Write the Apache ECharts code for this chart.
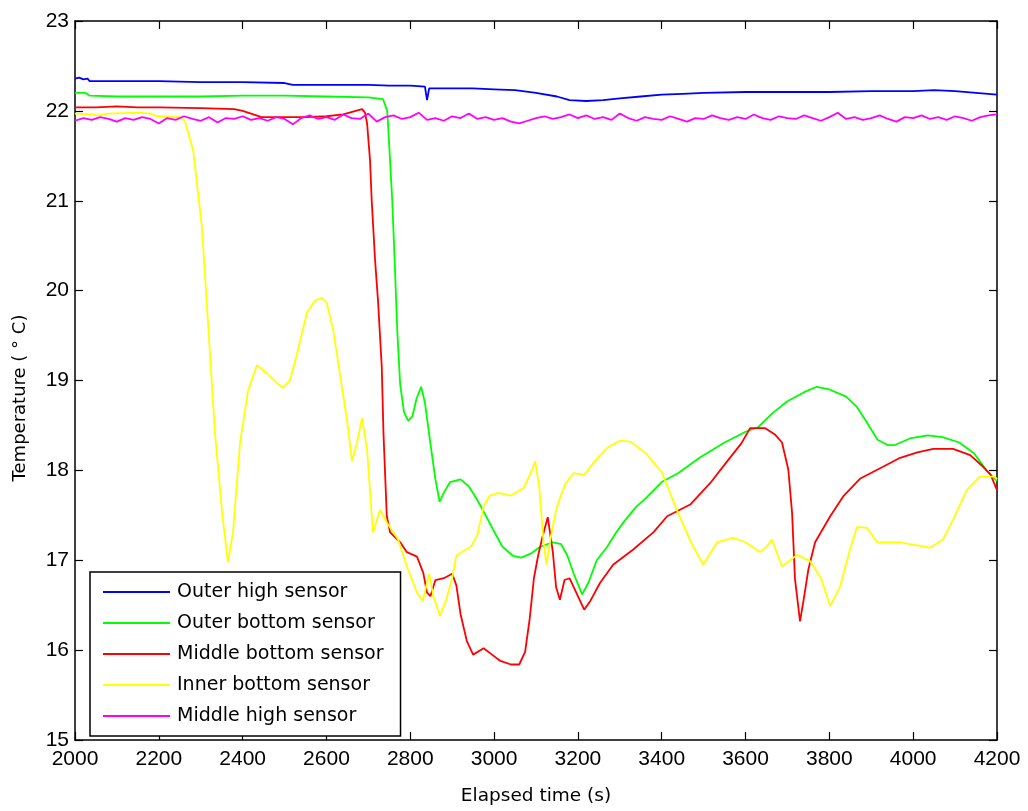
<!DOCTYPE html>
<html><head><meta charset="utf-8">
<script src="https://cdn.jsdelivr.net/npm/echarts@6/dist/echarts.min.js"></script>
<style>html,body{margin:0;padding:0;background:#fff}#c{width:1028px;height:811px}</style>
</head><body><div id="c"></div>
<script>
const xTicks = [2000,2200,2400,2600,2800,3000,3200,3400,3600,3800,4000,4200];
const yTicks = [15,16,17,18,19,20,21,22,23];
const xTitle = 'Elapsed time (s)';
const yTitle = 'Temperature ( ° C)';
const seriesNames = ['Outer high sensor','Outer bottom sensor','Middle bottom sensor','Inner bottom sensor','Middle high sensor'];
const seriesColors = ['#0000ff','#00ff00','#ff0000','#ffff00','#ff00ff'];

const outerHigh = [[2000,22.36],[2010,22.37],[2020,22.35],[2030,22.36],[2035,22.33],[2100,22.33],[2200,22.33],[2300,22.32],[2400,22.32],[2500,22.31],[2520,22.29],[2600,22.29],[2700,22.29],[2750,22.28],[2800,22.28],[2835,22.27],[2840,22.12],[2845,22.25],[2900,22.25],[2950,22.25],[3000,22.24],[3050,22.23],[3100,22.2],[3150,22.16],[3180,22.12],[3220,22.11],[3260,22.12],[3300,22.14],[3350,22.16],[3400,22.18],[3450,22.19],[3500,22.2],[3600,22.21],[3700,22.21],[3800,22.21],[3900,22.22],[4000,22.22],[4050,22.23],[4100,22.22],[4150,22.2],[4200,22.18]];

const outerBottom = [[2000,22.2],[2025,22.2],[2035,22.17],[2100,22.16],[2200,22.16],[2300,22.16],[2400,22.17],[2500,22.17],[2600,22.16],[2700,22.15],[2735,22.13],[2745,22.0],[2750,21.6],[2757,21.0],[2763,20.3],[2769,19.55],[2776,18.95],[2785,18.65],[2795,18.55],[2805,18.6],[2815,18.8],[2826,18.93],[2835,18.75],[2848,18.3],[2860,17.9],[2870,17.65],[2880,17.75],[2895,17.87],[2920,17.9],[2940,17.82],[2960,17.67],[2980,17.5],[3000,17.32],[3020,17.15],[3045,17.05],[3065,17.03],[3090,17.08],[3110,17.15],[3140,17.2],[3160,17.18],[3175,17.05],[3190,16.85],[3210,16.62],[3225,16.75],[3245,17.0],[3270,17.15],[3290,17.3],[3310,17.43],[3340,17.6],[3360,17.68],[3400,17.87],[3440,17.97],[3490,18.14],[3550,18.31],[3600,18.43],[3630,18.48],[3665,18.64],[3700,18.77],[3740,18.87],[3770,18.93],[3800,18.9],[3840,18.82],[3865,18.71],[3890,18.53],[3915,18.34],[3940,18.28],[3955,18.28],[3995,18.36],[4035,18.39],[4070,18.37],[4110,18.31],[4145,18.19],[4175,18.0],[4200,17.88]];

const middleBottom = [[2000,22.04],[2050,22.04],[2100,22.05],[2150,22.04],[2200,22.04],[2300,22.03],[2380,22.02],[2400,22.0],[2420,21.97],[2445,21.93],[2500,21.93],[2550,21.93],[2600,21.94],[2640,21.96],[2670,22.0],[2685,22.02],[2692,21.98],[2697,21.86],[2704,21.45],[2708,21.0],[2716,20.34],[2723,19.89],[2732,19.15],[2736,18.42],[2744,17.49],[2752,17.31],[2776,17.2],[2792,17.09],[2816,17.04],[2831,16.86],[2840,16.64],[2848,16.6],[2860,16.78],[2880,16.8],[2900,16.85],[2910,16.72],[2920,16.4],[2935,16.1],[2950,15.95],[2975,16.02],[2995,15.95],[3015,15.88],[3040,15.84],[3060,15.84],[3074,15.98],[3085,16.35],[3095,16.8],[3105,17.05],[3115,17.25],[3128,17.48],[3140,17.1],[3148,16.7],[3157,16.56],[3168,16.78],[3180,16.8],[3195,16.65],[3215,16.45],[3230,16.55],[3253,16.75],[3284,16.95],[3332,17.12],[3380,17.31],[3413,17.49],[3468,17.62],[3516,17.86],[3556,18.1],[3590,18.3],[3611,18.47],[3647,18.47],[3670,18.4],[3687,18.31],[3702,18.01],[3711,17.53],[3718,16.79],[3730,16.32],[3740,16.6],[3750,16.9],[3766,17.2],[3802,17.49],[3833,17.71],[3874,17.91],[3928,18.04],[3969,18.14],[4010,18.2],[4048,18.24],[4095,18.24],[4136,18.17],[4167,18.04],[4185,17.95],[4200,17.78]];

const innerBottom = [[2000,21.97],[2040,21.96],[2055,21.95],[2080,21.97],[2150,21.98],[2180,21.97],[2195,21.94],[2250,21.93],[2262,21.89],[2282,21.56],[2303,20.7],[2322,19.3],[2334,18.42],[2351,17.53],[2365,16.98],[2377,17.31],[2394,18.31],[2413,18.89],[2434,19.17],[2458,19.08],[2482,18.97],[2496,18.92],[2513,19.0],[2530,19.3],[2553,19.75],[2573,19.89],[2589,19.92],[2601,19.86],[2616,19.56],[2632,19.08],[2649,18.56],[2661,18.1],[2673,18.31],[2685,18.58],[2697,18.23],[2711,17.31],[2728,17.56],[2744,17.42],[2771,17.23],[2792,16.93],[2816,16.64],[2830,16.55],[2845,16.85],[2855,16.6],[2871,16.38],[2885,16.55],[2900,16.8],[2910,17.05],[2925,17.1],[2945,17.15],[2960,17.28],[2975,17.6],[2990,17.72],[3010,17.75],[3040,17.72],[3070,17.8],[3090,18.0],[3098,18.1],[3108,17.8],[3118,17.2],[3125,16.95],[3135,17.25],[3150,17.6],[3170,17.85],[3190,17.97],[3215,17.95],[3240,18.1],[3270,18.25],[3300,18.33],[3325,18.32],[3360,18.2],[3400,17.98],[3436,17.56],[3470,17.2],[3499,16.95],[3532,17.2],[3570,17.25],[3600,17.2],[3635,17.09],[3650,17.15],[3663,17.23],[3687,16.93],[3723,17.06],[3754,16.99],[3780,16.8],[3802,16.49],[3826,16.71],[3848,17.1],[3866,17.37],[3890,17.36],[3914,17.2],[3969,17.2],[4040,17.14],[4071,17.23],[4095,17.45],[4128,17.78],[4159,17.93],[4195,17.93],[4200,17.9]];

const middleHigh = [[2000,21.89],[2020,21.92],[2040,21.90],[2060,21.93],[2080,21.91],[2100,21.88],[2120,21.92],[2140,21.90],[2160,21.93],[2180,21.91],[2200,21.86],[2220,21.92],[2240,21.90],[2260,21.94],[2280,21.91],[2300,21.89],[2320,21.93],[2340,21.87],[2360,21.92],[2380,21.91],[2400,21.94],[2420,21.90],[2440,21.92],[2460,21.89],[2480,21.93],[2500,21.91],[2520,21.85],[2540,21.92],[2560,21.95],[2580,21.91],[2600,21.93],[2620,21.90],[2640,21.96],[2660,21.92],[2680,21.91],[2700,21.97],[2720,21.88],[2740,21.93],[2760,21.95],[2780,21.91],[2800,21.93],[2820,21.98],[2840,21.90],[2860,21.92],[2880,21.89],[2900,21.94],[2920,21.92],[2940,21.97],[2960,21.91],[2980,21.93],[3000,21.90],[3020,21.92],[3040,21.88],[3060,21.86],[3080,21.89],[3100,21.92],[3120,21.94],[3140,21.91],[3160,21.93],[3180,21.96],[3200,21.92],[3220,21.95],[3240,21.91],[3260,21.93],[3280,21.90],[3300,21.97],[3320,21.92],[3340,21.89],[3360,21.93],[3380,21.91],[3400,21.90],[3420,21.94],[3440,21.91],[3460,21.88],[3480,21.92],[3500,21.91],[3520,21.95],[3540,21.92],[3560,21.90],[3580,21.93],[3600,21.91],[3620,21.96],[3640,21.92],[3660,21.90],[3680,21.94],[3700,21.92],[3720,21.91],[3740,21.95],[3760,21.92],[3780,21.89],[3800,21.93],[3820,21.98],[3840,21.91],[3860,21.93],[3880,21.90],[3900,21.92],[3920,21.95],[3940,21.91],[3960,21.88],[3980,21.93],[4000,21.92],[4020,21.95],[4040,21.91],[4060,21.93],[4080,21.90],[4100,21.94],[4120,21.92],[4140,21.89],[4160,21.93],[4180,21.95],[4200,21.96]];

const allData = [outerHigh, outerBottom, middleBottom, innerBottom, middleHigh];
const tickFont = "'Liberation Sans', Arial, sans-serif";
const textFont = "'DejaVu Sans', 'Liberation Sans', sans-serif";
const lineStyleAxis = {color:'#000', width:1.5};
const tickStyle = {show:true, inside:true, length:8, lineStyle:{color:'#000', width:1.2}};

const chart = echarts.init(document.getElementById('c'), null, {renderer:'canvas'});
chart.setOption({
  animation:false,
  backgroundColor:'#fff',
  grid:{left:75, right:31, top:21, bottom:70, containLabel:false},
  xAxis:[
    {type:'value', min:xTicks[0], max:xTicks[xTicks.length-1], interval:200, position:'bottom',
     axisLine:{show:true, onZero:false, lineStyle:lineStyleAxis}, splitLine:{show:false},
     axisTick:tickStyle,
     axisLabel:{color:'#000', fontSize:21, fontFamily:tickFont, margin:9, formatter:v=>String(v)},
     name:xTitle, nameLocation:'middle', nameGap:47,
     nameTextStyle:{color:'#000', fontSize:18.5, fontFamily:textFont}},
    {type:'value', min:xTicks[0], max:xTicks[xTicks.length-1], interval:200, position:'top',
     axisLine:{show:true, onZero:false, lineStyle:lineStyleAxis}, splitLine:{show:false},
     axisTick:tickStyle, axisLabel:{show:false}}
  ],
  yAxis:[
    {type:'value', min:yTicks[0], max:yTicks[yTicks.length-1], interval:1, position:'left',
     axisLine:{show:true, onZero:false, lineStyle:lineStyleAxis}, splitLine:{show:false},
     axisTick:tickStyle,
     axisLabel:{color:'#000', fontSize:21, fontFamily:tickFont, margin:6}},
    {type:'value', min:yTicks[0], max:yTicks[yTicks.length-1], interval:1, position:'right',
     axisLine:{show:true, onZero:false, lineStyle:lineStyleAxis}, splitLine:{show:false},
     axisTick:tickStyle, axisLabel:{show:false}}
  ],
  graphic:[{
    type:'text', x:20, y:398, rotation:Math.PI/2, z:10,
    style:{text:yTitle, fill:'#000', font:"18px 'DejaVu Sans', 'Liberation Sans', sans-serif",
           align:'center', verticalAlign:'middle', textAlign:'center', textVerticalAlign:'middle'}
  }],
  legend:{
    left:90, top:572, orient:'vertical',
    data:seriesNames, icon:'rect', itemWidth:67, itemHeight:2, itemGap:12,
    padding:[10.5,17,10.5,13], backgroundColor:'#fff', borderColor:'#000', borderWidth:1.5, borderRadius:0,
    textStyle:{color:'#000', fontSize:19, fontFamily:textFont, padding:[0,0,0,2]},
    selectedMode:false
  },
  series: allData.map((d,i)=>({
    name:seriesNames[i], type:'line', data:d, xAxisIndex:0, yAxisIndex:0,
    showSymbol:false, symbol:'none', smooth:false,
    lineStyle:{color:seriesColors[i], width:1.8}, itemStyle:{color:seriesColors[i]}, z:2+i
  }))
});
</script></body></html>
